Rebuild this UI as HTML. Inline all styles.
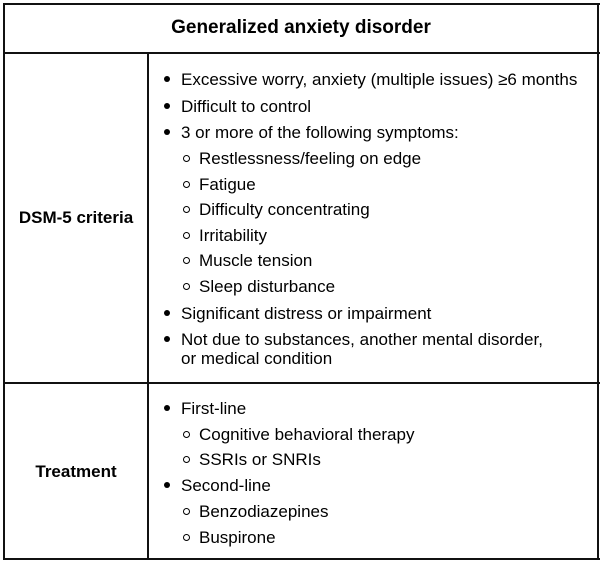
<!DOCTYPE html>
<html><head><meta charset="utf-8"><style>
body{margin:0;width:602px;height:564px;background:#fff;font-family:"Liberation Sans",Arial,sans-serif;color:#000;position:relative;overflow:hidden}
.b{position:absolute;background:#111}
.t{position:absolute;font-size:17px;line-height:20px;white-space:nowrap}
.bul{position:absolute;width:6px;height:6px;border-radius:50%;background:#000}
.cir{position:absolute;width:7px;height:7px;border-radius:50%;border:1.3px solid #000;box-sizing:border-box}
</style></head><body>
<div class="b" style="left:3px;top:3px;width:597px;height:2px"></div>
<div class="b" style="left:3px;top:558px;width:597px;height:2px"></div>
<div class="b" style="left:3px;top:3px;width:2px;height:557px"></div>
<div class="b" style="left:597px;top:3px;width:2px;height:557px"></div>
<div class="b" style="left:3px;top:52px;width:597px;height:2px"></div>
<div class="b" style="left:3px;top:382px;width:597px;height:2px"></div>
<div class="b" style="left:147px;top:53px;width:2px;height:506px"></div>
<div class="t" style="left:5px;width:592px;text-align:center;top:17px;font-weight:bold;font-size:19px;line-height:22px">Generalized anxiety disorder</div>
<div class="t" style="left:5px;width:142px;text-align:center;top:208px;font-weight:bold;font-size:17px">DSM-5 criteria</div>
<div class="t" style="left:5px;width:142px;text-align:center;top:462px;font-weight:bold;font-size:17px">Treatment</div>
<div id="items"></div>
<script>
const items=[
[0,79,"Excessive worry, anxiety (multiple issues) ≥6 months"],
[0,106,"Difficult to control"],
[0,132,"3 or more of the following symptoms:"],
[1,158,"Restlessness/feeling on edge"],
[1,184,"Fatigue"],
[1,209,"Difficulty concentrating"],
[1,235,"Irritability"],
[1,260,"Muscle tension"],
[1,286,"Sleep disturbance"],
[0,313,"Significant distress or impairment"],
[0,339,"Not due to substances, another mental disorder,"],
[2,358,"or medical condition"],
[0,408,"First-line"],
[1,434,"Cognitive behavioral therapy"],
[1,459,"SSRIs or SNRIs"],
[0,485,"Second-line"],
[1,511,"Benzodiazepines"],
[1,537,"Buspirone"]];
const c=document.getElementById('items');
items.forEach(([lv,y,txt])=>{
  if(lv<2){const m=document.createElement('div');
    m.className=lv?'cir':'bul';
    m.style.left=(lv?183:164)+'px';m.style.top=(y-3)+'px';
    
    
    c.appendChild(m);}
  const t=document.createElement('div');t.className='t';
  t.style.left=(lv==1?199:181)+'px';t.style.top=(y-9)+'px';t.textContent=txt;
  
  
  c.appendChild(t);
});
</script>
</body></html>
